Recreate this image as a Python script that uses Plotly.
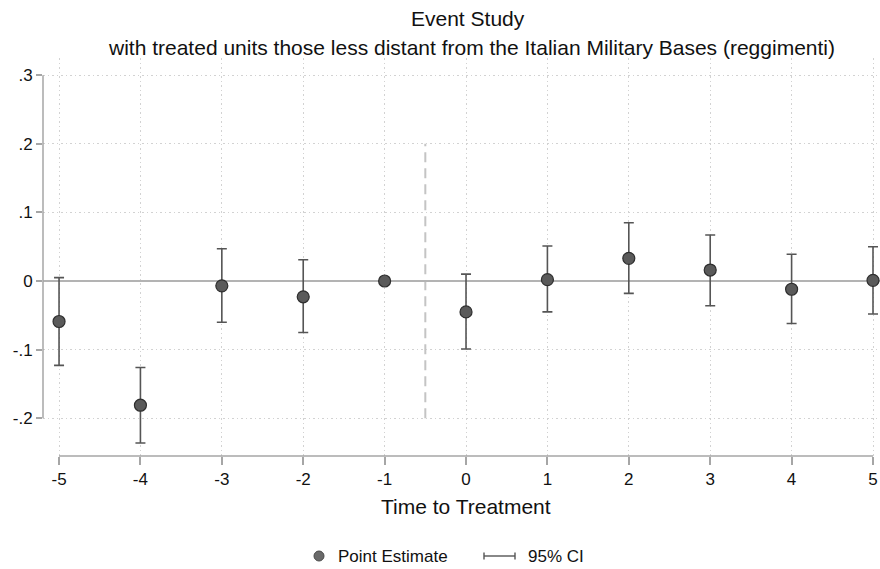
import plotly.graph_objects as go

# Event-study coefficients (relative time -1 is the omitted period)
periods = [-5, -4, -3, -2, -1, 0, 1, 2, 3, 4, 5]
estimate = [-0.059, -0.181, -0.007, -0.023, 0.000, -0.045, 0.002, 0.033, 0.016, -0.012, 0.001]
ci_low = [-0.123, -0.236, -0.060, -0.075, 0.000, -0.099, -0.045, -0.018, -0.036, -0.062, -0.048]
ci_high = [0.005, -0.126, 0.047, 0.031, 0.000, 0.010, 0.051, 0.085, 0.067, 0.039, 0.050]

y_ticks = [-0.2, -0.1, 0.0, 0.1, 0.2, 0.3]
y_tick_labels = ["-.2", "-.1", "0", ".1", ".2", ".3"]
x_ticks = periods
x_tick_labels = [str(p) for p in periods]

W, H = 880, 569
ML, MR, MT, MB = 43, 0, 58, 113
PW, PH = W - ML - MR, H - MT - MB


def px(x):
    return (x - ML) / PW


def py(y):
    return (H - MB - y) / PH


FONT = "Liberation Sans, Arial, Helvetica, sans-serif"
MARK = "#5a5a5a"
EDGE = "#2e2e2e"
BAR = "#555555"
AXIS = "#a6a6a6"
GRID = "#d2d2d2"
TXT = "#111111"

fig = go.Figure()

fig.add_trace(go.Scatter(
    x=periods,
    y=estimate,
    mode="markers",
    marker=dict(size=12, color=MARK, line=dict(color=EDGE, width=1.2)),
    error_y=dict(
        type="data",
        symmetric=False,
        array=[h - e for h, e in zip(ci_high, estimate)],
        arrayminus=[e - l for e, l in zip(estimate, ci_low)],
        color=BAR,
        thickness=1.6,
        width=5,
    ),
    showlegend=False,
    hoverinfo="skip",
))

shapes = [
    # axis lines spanning the labelled range only
    dict(type="line", xref="paper", yref="y", x0=0, x1=0, y0=-0.2, y1=0.3,
         line=dict(color=AXIS, width=1.5)),
    dict(type="line", xref="x", yref="paper", x0=-5, x1=5, y0=0, y1=0,
         line=dict(color=AXIS, width=1.5)),
    # treatment onset marker
    dict(type="line", xref="x", yref="y", x0=-0.5, x1=-0.5, y0=-0.2, y1=0.2,
         line=dict(color="#c4c4c4", width=2, dash="10px,6px"), layer="below"),
    # legend glyphs
    dict(type="circle", xref="paper", yref="paper",
         x0=px(314), x1=px(324), y0=py(561), y1=py(551),
         fillcolor="#6a6a6a", line=dict(color="#4a4a4a", width=1)),
    dict(type="line", xref="paper", yref="paper",
         x0=px(484), x1=px(515), y0=py(556), y1=py(556),
         line=dict(color=BAR, width=1.4)),
    dict(type="line", xref="paper", yref="paper",
         x0=px(484), x1=px(484), y0=py(552.5), y1=py(559.5),
         line=dict(color=BAR, width=1.4)),
    dict(type="line", xref="paper", yref="paper",
         x0=px(515), x1=px(515), y0=py(552.5), y1=py(559.5),
         line=dict(color=BAR, width=1.4)),
]

annotations = [
    dict(text="Event Study", x=px(468), y=py(18), xref="paper", yref="paper",
         showarrow=False, xanchor="center", yanchor="middle",
         font=dict(size=21, color=TXT, family=FONT)),
    dict(text="with treated units those less distant from the Italian Military Bases (reggimenti)",
         x=px(471), y=py(47), xref="paper", yref="paper",
         showarrow=False, xanchor="center", yanchor="middle",
         font=dict(size=21, color=TXT, family=FONT)),
    dict(text="Time to Treatment", x=px(466), y=py(506), xref="paper", yref="paper",
         showarrow=False, xanchor="center", yanchor="middle",
         font=dict(size=21, color=TXT, family=FONT)),
    dict(text="Point Estimate", x=px(336), y=py(556), xref="paper", yref="paper",
         showarrow=False, xanchor="left", yanchor="middle",
         font=dict(size=17, color=TXT, family=FONT)),
    dict(text="95% CI", x=px(526), y=py(556), xref="paper", yref="paper",
         showarrow=False, xanchor="left", yanchor="middle",
         font=dict(size=17, color=TXT, family=FONT)),
]

fig.update_layout(
    width=W, height=H,
    margin=dict(l=ML, r=MR, t=MT, b=MB, pad=0),
    paper_bgcolor="white",
    plot_bgcolor="white",
    font=dict(family=FONT, color=TXT),
    shapes=shapes,
    annotations=annotations,
    showlegend=False,
    xaxis=dict(
        range=[-5.197, 5.086],
        tickvals=x_ticks, ticktext=x_tick_labels,
        showline=False, zeroline=False,
        showgrid=True, gridcolor=GRID, griddash="1.5px,3px", gridwidth=1,
        ticks="outside", ticklen=8, tickwidth=1.5, tickcolor=AXIS,
        tickfont=dict(size=17, color=TXT, family=FONT),
        fixedrange=True,
    ),
    yaxis=dict(
        range=[-0.255, 0.325],
        tickvals=y_ticks, ticktext=y_tick_labels,
        showline=False,
        zeroline=True, zerolinecolor="#b3b3b3", zerolinewidth=1.5,
        showgrid=True, gridcolor=GRID, griddash="1.5px,3px", gridwidth=1,
        ticks="outside", ticklen=6, tickwidth=1.5, tickcolor=AXIS,
        tickfont=dict(size=17, color=TXT, family=FONT),
        fixedrange=True,
    ),
)

fig.write_html("out.html")
